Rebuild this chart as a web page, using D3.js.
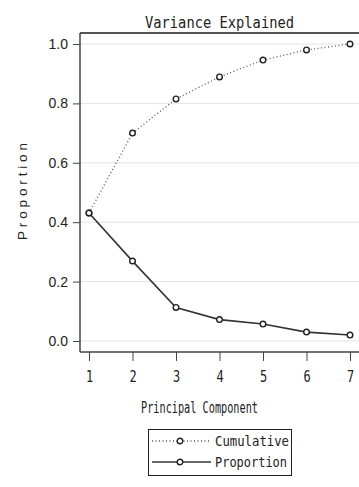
<!DOCTYPE html>
<html>
<head>
<meta charset="utf-8">
<script src="https://cdn.jsdelivr.net/npm/d3@7"></script>
<style>
  html, body { margin: 0; padding: 0; background: #fff; }
  svg { display: block; }
</style>
</head>
<body>
<div class="container"></div>
<script>
const WIDTH = 359
const HEIGHT = 487

// data
const components = [1, 2, 3, 4, 5, 6, 7]
const cumulative = [0.431, 0.700, 0.815, 0.889, 0.946, 0.980, 1.000]
const proportion = [0.431, 0.269, 0.113, 0.072, 0.057, 0.030, 0.020]
const yTicks = [0, 0.2, 0.4, 0.6, 0.8, 1.0]

const MONO = "'DejaVu Sans Mono', monospace"
const SANS = "'Liberation Sans', Arial, sans-serif"
const INK = '#222'

const svg = d3.select('.container').append('svg')
    .attr('width', WIDTH)
    .attr('height', HEIGHT)
    .attr('viewBox', `0 0 ${WIDTH} ${HEIGHT}`)

// plot frame
const frame = { left: 80, top: 33, bottom: 352, right: WIDTH + 2 }

const x = d3.scaleLinear().domain([1, 7]).range([89, 350])
const y = d3.scaleLinear().domain([0, 1]).range([341, 44])

// grid lines
svg.append('g')
    .selectAll('line')
    .data(yTicks)
    .join('line')
    .attr('x1', frame.left)
    .attr('x2', frame.right)
    .attr('y1', d => y(d))
    .attr('y2', d => y(d))
    .attr('stroke', '#e3e3e3')
    .attr('stroke-width', 1)

// top border
svg.append('line')
    .attr('x1', frame.left).attr('x2', frame.right)
    .attr('y1', frame.top).attr('y2', frame.top)
    .attr('stroke', '#555').attr('stroke-width', 2)

// y axis
const yAxis = svg.append('g')
    .attr('transform', `translate(${frame.left},0)`)
    .call(d3.axisLeft(y).tickValues(yTicks).tickFormat(d3.format('.1f')).tickSize(7).tickPadding(5))
yAxis.select('.domain').attr('d', `M0,${frame.top}V${frame.bottom}`).attr('stroke', '#444').attr('stroke-width', 1.5)
yAxis.selectAll('.tick line').attr('stroke', '#444')
yAxis.selectAll('.tick text')
    .attr('font-family', SANS)
    .attr('font-size', 14)
    .attr('fill', INK)

// x axis
const xAxis = svg.append('g')
    .attr('transform', `translate(0,${frame.bottom})`)
    .call(d3.axisBottom(x).tickValues(components).tickFormat(d3.format('d')).tickSize(9).tickPadding(10))
xAxis.select('.domain').attr('d', `M${frame.left},0H${frame.right}`).attr('stroke', '#444').attr('stroke-width', 1.5)
xAxis.selectAll('.tick line').attr('stroke', '#444')
xAxis.selectAll('.tick text')
    .attr('font-family', MONO)
    .attr('font-size', 15)
    .attr('fill', INK)
    .attr('transform', 'scale(0.8,1)')
    .attr('x', 0)

// title
svg.append('text')
    .attr('x', 145).attr('y', 28)
    .attr('textLength', 149).attr('lengthAdjust', 'spacingAndGlyphs')
    .attr('font-family', MONO).attr('font-size', 15.5)
    .attr('fill', INK)
    .text('Variance Explained')

// axis labels
svg.append('text')
    .attr('x', 141).attr('y', 413)
    .attr('textLength', 117).attr('lengthAdjust', 'spacingAndGlyphs')
    .attr('font-family', MONO).attr('font-size', 15)
    .attr('fill', INK)
    .text('Principal Component')

svg.append('text')
    .attr('transform', 'translate(27,240) rotate(-90)')
    .attr('textLength', 97).attr('lengthAdjust', 'spacing')
    .attr('font-family', SANS).attr('font-size', 13.5)
    .attr('fill', INK)
    .text('Proportion')

// series
const line = d3.line()
    .x((d, i) => x(components[i]))
    .y(d => y(d))

const series = [
    { name: 'Cumulative', values: cumulative, dash: '1,2.5', color: '#555', width: 1.3 },
    { name: 'Proportion', values: proportion, dash: null, color: '#333', width: 1.6 }
]

series.forEach(s => {
    svg.append('path')
        .datum(s.values)
        .attr('d', line)
        .attr('fill', 'none')
        .attr('stroke', s.color)
        .attr('stroke-width', s.width)
        .attr('stroke-dasharray', s.dash)
    svg.append('g')
        .selectAll('circle')
        .data(s.values)
        .join('circle')
        .attr('cx', (d, i) => x(components[i]))
        .attr('cy', d => y(d))
        .attr('r', 2.8)
        .attr('fill', '#fff')
        .attr('stroke', INK)
        .attr('stroke-width', 1.4)
})

// legend
const legend = svg.append('g')
legend.append('rect')
    .attr('x', 148.5).attr('y', 429.5)
    .attr('width', 143).attr('height', 46)
    .attr('fill', '#fff')
    .attr('stroke', INK).attr('stroke-width', 1)

const rows = legend.selectAll('g.row')
    .data(series)
    .join('g')
    .attr('class', 'row')
    .attr('transform', (d, i) => `translate(0,${441 + i * 21})`)
rows.append('line')
    .attr('x1', 152).attr('x2', 211)
    .attr('stroke', d => d.color)
    .attr('stroke-width', d => d.width)
    .attr('stroke-dasharray', d => d.dash)
rows.append('circle')
    .attr('cx', 180).attr('r', 2.8)
    .attr('fill', '#fff').attr('stroke', INK).attr('stroke-width', 1.4)
rows.append('text')
    .attr('x', 215).attr('y', 5)
    .attr('textLength', d => d.name === 'Cumulative' ? 74 : 72)
    .attr('lengthAdjust', 'spacingAndGlyphs')
    .attr('font-family', MONO).attr('font-size', 14.5)
    .attr('fill', INK)
    .text(d => d.name)
</script>
</body>
</html>
